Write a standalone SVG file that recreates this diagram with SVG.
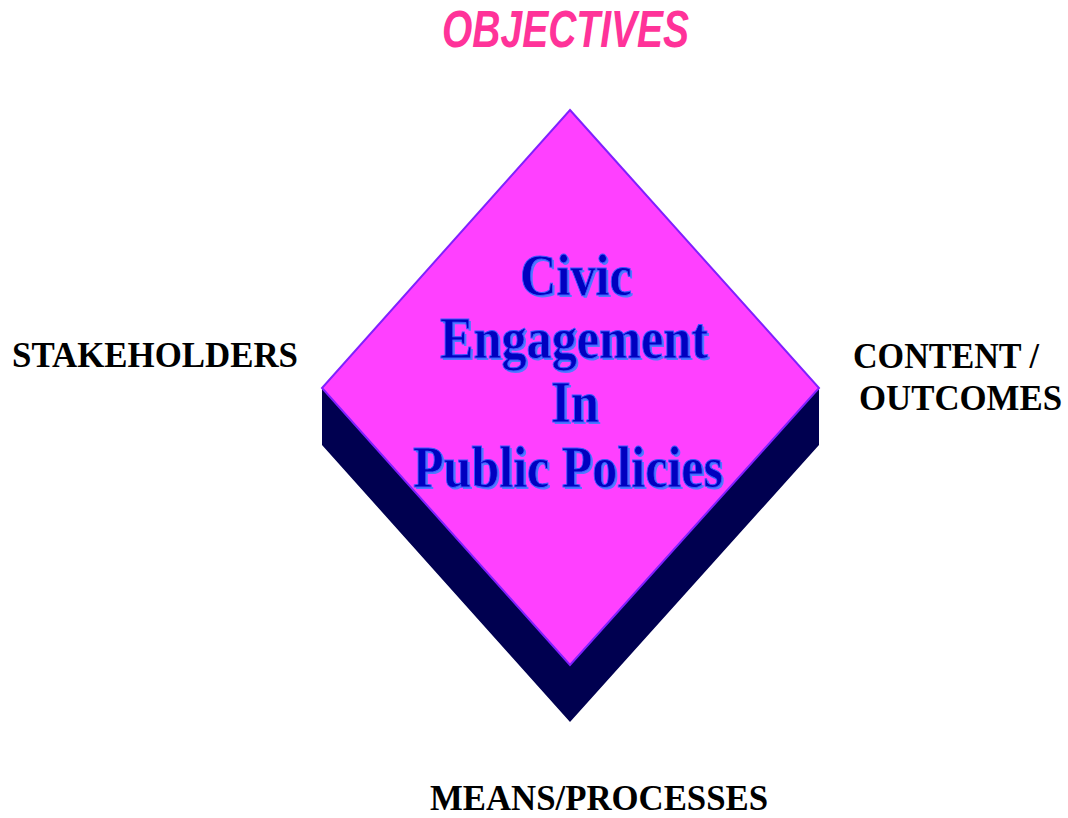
<svg xmlns="http://www.w3.org/2000/svg" width="1068" height="818" viewBox="0 0 1068 818">
<style>
.lbl{font-family:"Liberation Serif","Times New Roman",serif;font-weight:bold;font-size:35px;fill:#000}
.title{font-family:"Liberation Sans",Arial,sans-serif;font-weight:bold;font-style:italic;font-size:51px;fill:#FF3399}
.ct{font-family:"Liberation Serif","Times New Roman",serif;font-weight:bold;font-size:60px;text-anchor:middle}
.sh{fill:#4D7BFF}
.fg{fill:#0000C0;stroke:#3A5BFF;stroke-width:1}
</style>
<rect width="1068" height="818" fill="#fff"/>
<g id="title"><text class="title" x="442" y="47" textLength="247" lengthAdjust="spacingAndGlyphs">OBJECTIVES</text></g>
<g id="diamond">
<polygon points="322,388 322,445 570,722 819,445 819,388 570,665" fill="#000050"/>
<polygon points="570,110 819,388 570,665 322,388" fill="#FF40FF" stroke="#8020FF" stroke-width="2"/>
<g id="center-text">
<g class="sh" transform="translate(2,2)">
<text class="ct" x="576" y="295" textLength="112" lengthAdjust="spacingAndGlyphs">Civic</text>
<text class="ct" x="574" y="358" textLength="268" lengthAdjust="spacingAndGlyphs">Engagement</text>
<text class="ct" x="575" y="422" textLength="48" lengthAdjust="spacingAndGlyphs">In</text>
<text class="ct" x="568" y="487" textLength="310" lengthAdjust="spacingAndGlyphs">Public Policies</text>
</g>
<g class="fg">
<text class="ct" x="576" y="295" textLength="112" lengthAdjust="spacingAndGlyphs">Civic</text>
<text class="ct" x="574" y="358" textLength="268" lengthAdjust="spacingAndGlyphs">Engagement</text>
<text class="ct" x="575" y="422" textLength="48" lengthAdjust="spacingAndGlyphs">In</text>
<text class="ct" x="568" y="487" textLength="310" lengthAdjust="spacingAndGlyphs">Public Policies</text>
</g>
</g>
</g>
<g id="stakeholders"><text class="lbl" x="12" y="367" textLength="286" lengthAdjust="spacingAndGlyphs">STAKEHOLDERS</text></g>
<g id="content"><text class="lbl" x="853" y="368" textLength="186" lengthAdjust="spacingAndGlyphs">CONTENT /</text>
<text class="lbl" x="859" y="410" textLength="203" lengthAdjust="spacingAndGlyphs">OUTCOMES</text></g>
<g id="means"><text class="lbl" x="430" y="810" textLength="338" lengthAdjust="spacingAndGlyphs">MEANS/PROCESSES</text></g>
</svg>
